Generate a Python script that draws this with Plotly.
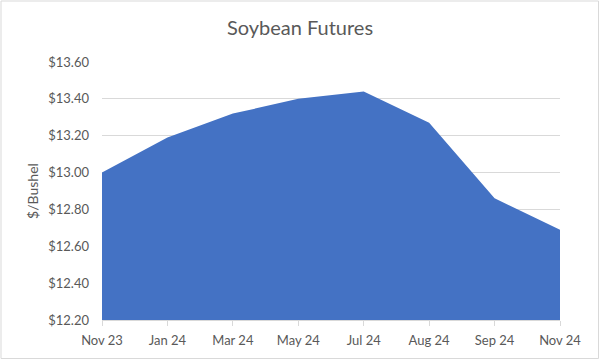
import plotly.graph_objects as go

categories = ["Nov 23", "Jan 24", "Mar 24", "May 24", "Jul 24", "Aug 24", "Sep 24", "Nov 24"]
prices = [13.00, 13.19, 13.32, 13.40, 13.44, 13.27, 12.86, 12.69]
tick_vals = [12.20, 12.40, 12.60, 12.80, 13.00, 13.20, 13.40, 13.60]
tick_text = ["$%.2f" % v for v in tick_vals]

W, H = 600, 360
L, R, T, B = 102, 40, 62, 40
pw, ph = W - L - R, H - T - B

font = "Lato, 'Open Sans', sans-serif"
grey = "#595959"

fig = go.Figure()
fig.add_trace(go.Scatter(
    x=categories, y=prices, mode="lines", fill="tozeroy",
    line=dict(color="#4472C4", width=0), fillcolor="#4472C4",
    hoverinfo="x+y", showlegend=False,
))

fig.update_layout(
    width=W, height=H,
    margin=dict(l=L, r=R, t=T, b=B),
    paper_bgcolor="white", plot_bgcolor="white",
    title=dict(text="Soybean Futures", x=0.5, xanchor="center", y=1 - 28 / H, yanchor="middle",
               font=dict(family=font, size=20, color=grey)),
    font=dict(family=font, color=grey, size=13),
    xaxis=dict(
        type="category", range=[0, len(categories) - 1],
        showgrid=False, showline=True, linecolor="#d9d9d9", linewidth=1,
        ticks="outside", ticklen=5, tickcolor="#d9d9d9", tickwidth=1,
        tickfont=dict(size=13, color=grey), zeroline=False,
        ticklabelstandoff=3,
    ),
    yaxis=dict(
        range=[12.20, 13.60], tickvals=tick_vals, ticktext=tick_text,
        showgrid=True, gridcolor="#d9d9d9", gridwidth=1,
        showline=False, zeroline=False, ticks="", ticklen=0,
        tickfont=dict(size=13, color=grey),
        ticklabelstandoff=12,
        title=dict(text="$/Bushel", font=dict(size=14, color=grey), standoff=6),
    ),
    shapes=[dict(
        type="rect", xref="paper", yref="paper",
        x0=-(L - 1) / pw, x1=1 + (R - 1.5) / pw,
        y0=-(B - 1.5) / ph, y1=1 + (T - 1) / ph,
        line=dict(color="#d9d9d9", width=1), fillcolor="rgba(0,0,0,0)", layer="below",
    )],
)

fig.write_html("out.html")
